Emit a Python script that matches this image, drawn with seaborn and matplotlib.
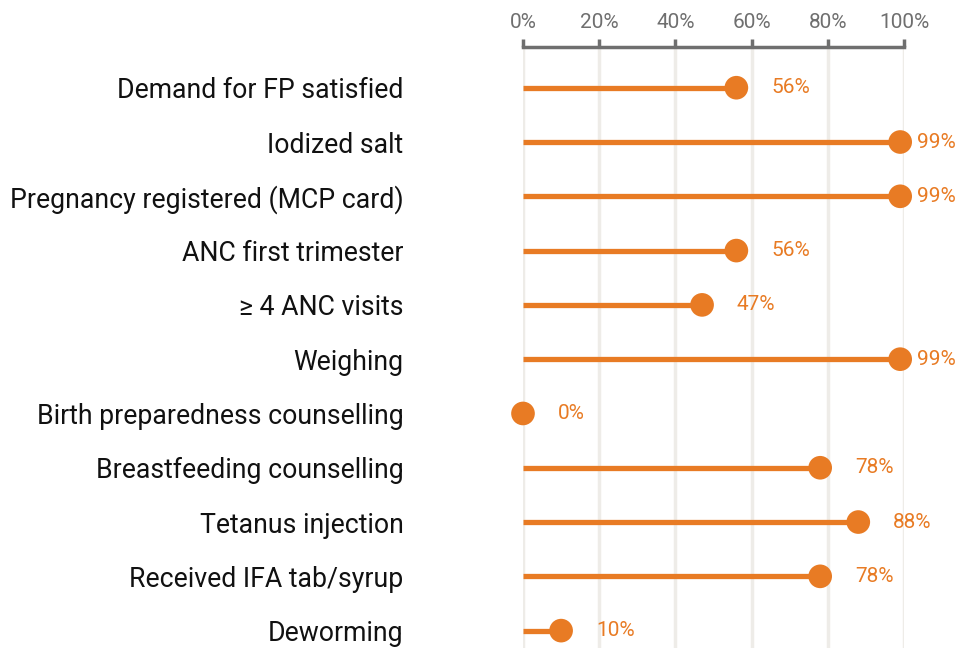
import seaborn as sns
import matplotlib.pyplot as plt
import pandas as pd
from matplotlib.ticker import FuncFormatter

sns.set_theme(style="white")
plt.rcParams['font.family'] = ['Roboto', 'DejaVu Sans']

# データ
indicators = [
    'Demand for FP satisfied',
    'Iodized salt',
    'Pregnancy registered (MCP card)',
    'ANC first trimester',
    '\u2265 4 ANC visits',
    'Weighing',
    'Birth preparedness counselling',
    'Breastfeeding counselling',
    'Tetanus injection',
    'Received IFA tab/syrup',
    'Deworming',
]
values = [56, 99, 99, 56, 47, 99, 0, 78, 88, 78, 10]
x_ticks = [0, 20, 40, 60, 80, 100]

df = pd.DataFrame({'indicator': indicators, 'value': values, 'row': range(len(indicators))})

orange = '#E87B24'
gray = '#6f6f6f'

fig = plt.figure(figsize=(9.7, 6.48), dpi=100)
ax = fig.add_axes([523 / 970, 0, (904 - 523) / 970, 1 - 47 / 648])

# 縦のグリッド
for t in x_ticks:
    ax.axvline(t, color='#eeece8', linewidth=2.5, zorder=0)

# ロリポップ
ax.hlines(df['row'], 0, df['value'], color=orange, linewidth=3.8, zorder=2)
sns.scatterplot(data=df, x='value', y='row', color=orange, s=290,
                edgecolor='none', ax=ax, zorder=3, legend=False, clip_on=False)

# 値ラベル
for _, r in df.iterrows():
    off = 12 if r['value'] > 95 else 25
    ax.annotate(f"{r['value']}%", xy=(r['value'], r['row']),
                xytext=(off, 0), textcoords='offset points',
                va='center', ha='left', color=orange, fontsize=15,
                annotation_clip=False)

ax.set_xlim(0, 100)
ax.set_ylim(10.32, -0.75)
ax.set_yticks(df['row'])
ax.set_yticklabels(df['indicator'], fontsize=19.2, color='#111111')
ax.tick_params(axis='y', length=0, pad=86)

ax.set_xticks(x_ticks)
ax.xaxis.set_major_formatter(FuncFormatter(lambda v, p: f'{int(v)}%'))
ax.xaxis.tick_top()
ax.tick_params(axis='x', direction='out', length=6, width=2.5, color=gray,
               labelcolor=gray, labelsize=15, pad=5)

for s in ['bottom', 'left', 'right']:
    ax.spines[s].set_visible(False)
ax.spines['top'].set_color(gray)
ax.spines['top'].set_linewidth(2.5)
ax.set_xlabel('')
ax.set_ylabel('')
ax.set_facecolor('white')

fig.savefig('out.png', dpi=100)
